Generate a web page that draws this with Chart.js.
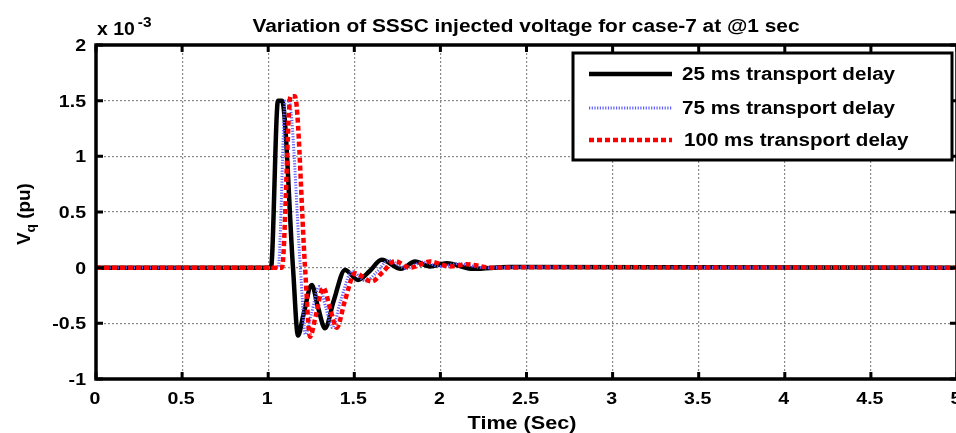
<!DOCTYPE html>
<html>
<head>
<meta charset="utf-8">
<script src="https://cdn.jsdelivr.net/npm/chart.js@4"></script>
<style>
  html, body { margin: 0; padding: 0; background: #fff; overflow: hidden; }
  #wrap { width: 960px; height: 433px; }
</style>
</head>
<body>
<div id="wrap"><canvas id="vqChart"></canvas></div>
<script>
// time (s) and Vq (x 1e-3 pu)
const t25 = [0, 1.0, 1.016, 1.057, 1.080, 1.144, 1.173, 1.205, 1.253, 1.290, 1.330, 1.380, 1.446, 1.521, 1.590, 1.659, 1.771, 1.853, 1.940, 2.037, 2.190, 2.400, 5];
const v25 = [0, 0, 0, 1.50, 1.50, 0, -0.61, -0.42, -0.155, -0.36, -0.545, -0.30, -0.02, -0.11, -0.03, 0.07, -0.01, 0.055, 0.01, 0.04, -0.01, 0.005, 0];

const t75 = [0, 1.0, 1.058, 1.100, 1.120, 1.187, 1.216, 1.250, 1.296, 1.335, 1.373, 1.420, 1.487, 1.568, 1.630, 1.700, 1.800, 1.900, 2.000, 2.100, 2.250, 2.450, 5];
const v75 = [0, 0, 0, 1.50, 1.50, 0, -0.60, -0.42, -0.17, -0.36, -0.54, -0.30, -0.035, -0.12, -0.04, 0.065, -0.005, 0.05, 0.01, 0.035, 0, 0.003, 0];

const t100 = [0, 1.0, 1.080, 1.130, 1.155, 1.214, 1.243, 1.275, 1.320, 1.360, 1.398, 1.445, 1.504, 1.601, 1.665, 1.736, 1.823, 1.940, 2.056, 2.153, 2.300, 2.500, 5];
const v100 = [0, 0, 0, 1.54, 1.54, 0, -0.62, -0.44, -0.18, -0.37, -0.54, -0.30, -0.05, -0.125, -0.04, 0.06, 0, 0.055, 0.01, 0.03, 0, 0.003, 0];

const seriesNames = ['25 ms transport delay', '75 ms transport delay', '100 ms transport delay'];
const xTicks = [0, 0.5, 1, 1.5, 2, 2.5, 3, 3.5, 4, 4.5, 5];
const yTicks = [-1, -0.5, 0, 0.5, 1, 1.5, 2];

const FONT = '"Liberation Sans", Arial, sans-serif';
Chart.defaults.font.family = FONT;
Chart.defaults.color = '#000';

const pts = (t, v) => t.map((x, i) => ({ x: x, y: v[i] }));

const styles = [
  { color: '#000000', width: 4.5, dash: [] },
  { color: 'rgb(95,95,255)', width: 3, dash: [1.2, 1.5] },
  { color: '#ff0000', width: 4.5, dash: [5, 3] }
];

// the original's text is a bit wider than Liberation Sans, so stretch it
function wideText(ctx, str, x, y, sx) {
  ctx.save();
  ctx.translate(x, y);
  ctx.scale(sx, 1);
  ctx.fillText(str, 0, 0);
  ctx.restore();
}

// frame, inward ticks, labels, titles and legend (MATLAB look)
const decor = {
  id: 'decor',
  afterDatasetsDraw(chart) {
    const { ctx, chartArea: a, scales: { x, y } } = chart;
    ctx.save();
    ctx.strokeStyle = '#000';
    ctx.fillStyle = '#000';
    ctx.lineWidth = 3;
    ctx.setLineDash([]);
    ctx.font = 'bold 17px ' + FONT;
    xTicks.forEach(v => {
      const px = x.getPixelForValue(v);
      ctx.beginPath();
      ctx.moveTo(px, a.bottom); ctx.lineTo(px, a.bottom - 7);
      ctx.moveTo(px, a.top); ctx.lineTo(px, a.top + 7);
      ctx.stroke();
      ctx.textAlign = 'center';
      wideText(ctx, String(v), px - 1, 404, 1.15);
    });
    yTicks.forEach(v => {
      const py = y.getPixelForValue(v);
      ctx.beginPath();
      ctx.moveTo(a.left, py); ctx.lineTo(a.left + 7, py);
      ctx.moveTo(a.right, py); ctx.lineTo(a.right - 7, py);
      ctx.stroke();
      ctx.textAlign = 'right';
      wideText(ctx, String(v), 86, py + 6, 1.15);
    });
    ctx.lineWidth = 3.5;
    ctx.strokeRect(a.left, a.top, a.right - a.left, a.bottom - a.top);

    // legend
    const lx = 573, ly = 53, lw = 379, lh = 107;
    ctx.fillStyle = '#fff';
    ctx.fillRect(lx, ly, lw, lh);
    ctx.lineWidth = 3;
    ctx.strokeRect(lx, ly, lw, lh);
    const rows = [74, 108, 140];
    ctx.font = 'bold 18px ' + FONT;
    ctx.textBaseline = 'middle';
    ctx.textAlign = 'left';
    styles.forEach((s, i) => {
      ctx.beginPath();
      ctx.strokeStyle = s.color;
      ctx.lineWidth = s.width;
      ctx.setLineDash(s.dash);
      ctx.moveTo(589, rows[i]); ctx.lineTo(672, rows[i]);
      ctx.stroke();
      ctx.fillStyle = '#000';
      wideText(ctx, seriesNames[i], i === 2 ? 684 : 682, rows[i] + 1, 1.145);
    });
    ctx.setLineDash([]);

    // title
    ctx.textBaseline = 'alphabetic';
    ctx.textAlign = 'center';
    ctx.font = 'bold 18px ' + FONT;
    wideText(ctx, 'Variation of SSSC injected voltage for case-7 at @1 sec', 526, 32, 1.16);

    // exponent
    ctx.textAlign = 'left';
    wideText(ctx, 'x 10', 97, 35, 1.08);
    const w10 = ctx.measureText('x 10').width * 1.08;
    ctx.font = 'bold 14px ' + FONT;
    wideText(ctx, '-3', 97 + w10 + 3, 27, 1.1);

    // x title
    ctx.textAlign = 'center';
    ctx.font = 'bold 18px ' + FONT;
    wideText(ctx, 'Time (Sec)', 522, 429, 1.2);

    // y title
    ctx.translate(30, 245);
    ctx.rotate(-Math.PI / 2);
    ctx.scale(1.05, 1);
    ctx.textAlign = 'left';
    ctx.font = 'bold 18px ' + FONT;
    ctx.fillText('V', 0, 0);
    let off = ctx.measureText('V').width;
    ctx.font = 'bold 13px ' + FONT;
    ctx.fillText('q', off, 5);
    off += ctx.measureText('q').width;
    ctx.font = 'bold 18px ' + FONT;
    ctx.fillText(' (pu)', off, 0);
    ctx.restore();
  }
};

new Chart(document.getElementById('vqChart'), {
  type: 'line',
  data: {
    datasets: [
      { label: seriesNames[0], data: pts(t25, v25), order: 3 },
      { label: seriesNames[1], data: pts(t75, v75), order: 2 },
      { label: seriesNames[2], data: pts(t100, v100), order: 1 }
    ].map((d, i) => Object.assign(d, {
      borderColor: styles[i].color,
      borderWidth: styles[i].width,
      borderDash: styles[i].dash,
      pointRadius: 0,
      fill: false,
      cubicInterpolationMode: 'monotone'
    }))
  },
  options: {
    responsive: true,
    maintainAspectRatio: false,
    animation: false,
    layout: { autoPadding: false, padding: { left: 0, top: 45, right: 3, bottom: 0 } },
    plugins: { legend: { display: false }, tooltip: { enabled: false } },
    scales: {
      x: {
        type: 'linear', min: 0, max: 5,
        afterBuildTicks: s => { s.ticks = xTicks.map(v => ({ value: v })); },
        afterFit: s => { s.height = 54; },
        ticks: { display: false },
        grid: { color: '#8a8a8a', lineWidth: 1.2, drawTicks: false },
        border: { display: false, dash: [2, 2] }
      },
      y: {
        min: -1, max: 2,
        afterBuildTicks: s => { s.ticks = yTicks.map(v => ({ value: v })); },
        afterFit: s => { s.width = 96; },
        ticks: { display: false },
        grid: { color: '#8a8a8a', lineWidth: 1.2, drawTicks: false },
        border: { display: false, dash: [2, 2] }
      }
    }
  },
  plugins: [decor]
});
</script>
</body>
</html>
